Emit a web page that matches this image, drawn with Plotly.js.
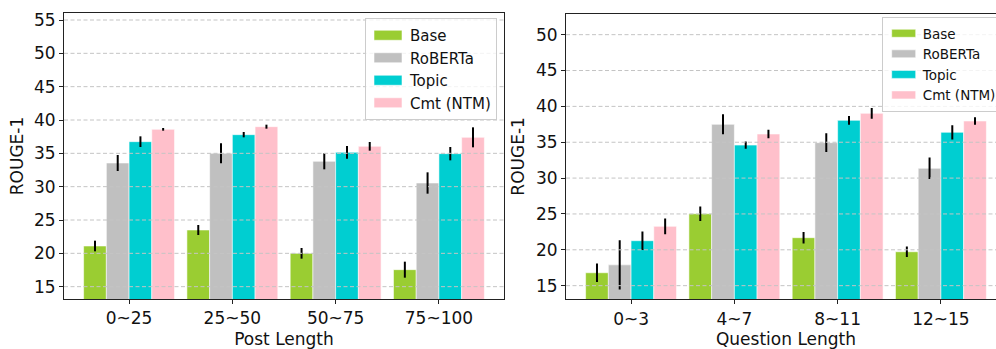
<!DOCTYPE html>
<html>
<head>
<meta charset="utf-8">
<script src="https://cdn.plot.ly/plotly-3.0.1.min.js"></script>
<style>
html, body { margin: 0; padding: 0; overflow: hidden; background: #fff; width: 996px; height: 349px; }
#chart { width: 1006px; height: 349px; }
</style>
</head>
<body>
<div id="chart"></div>
<script>
// ---- data ----
const seriesNames = ['Base', 'RoBERTa', 'Topic', 'Cmt (NTM)'];
const postCategories = ['0~25', '25~50', '50~75', '75~100'];
const questionCategories = ['0~3', '4~7', '8~11', '12~15'];

const postBase = [21.1, 23.5, 20.0, 17.55];
const postBaseErr = [0.8, 0.75, 0.8, 1.2];
const postRoberta = [33.55, 35.0, 33.8, 30.55];
const postRobertaErr = [1.2, 1.5, 1.2, 1.6];
const postTopic = [36.75, 37.8, 35.15, 34.95];
const postTopicErr = [0.8, 0.4, 0.95, 1.0];
const postCmt = [38.6, 39.0, 36.05, 37.4];
const postCmtErr = [0.2, 0.3, 0.65, 1.5];

const questionBase = [16.8, 25.03, 21.69, 19.73];
const questionBaseErr = [1.3, 1.0, 0.8, 0.72];
const questionRoberta = [17.9, 37.5, 34.94, 31.36];
const questionRobertaErr = [3.45, 1.4, 1.3, 1.5];
const questionTopic = [21.27, 34.6, 38.05, 36.38];
const questionTopicErr = [1.28, 0.5, 0.6, 1.0];
const questionCmt = [23.27, 36.15, 39.03, 37.96];
const questionCmtErr = [1.1, 0.6, 0.75, 0.53];

const leftYTicks = [15, 20, 25, 30, 35, 40, 45, 50, 55];
const rightYTicks = [15, 20, 25, 30, 35, 40, 45, 50];

// ---- styles ----
const colors = ['#9acd32', '#c0c0c0', '#00ced1', '#ffc0cb'];
const FONT = 'DejaVu Sans';
const W = 1006;

const postValues = [postBase, postRoberta, postTopic, postCmt];
const postErrs = [postBaseErr, postRobertaErr, postTopicErr, postCmtErr];
const questionValues = [questionBase, questionRoberta, questionTopic, questionCmt];
const questionErrs = [questionBaseErr, questionRobertaErr, questionTopicErr, questionCmtErr];

function makeTrace(name, cats, vals, errs, i, xa, ya, legendId) {
  return {
    type: 'bar', name: name, x: cats, y: vals,
    xaxis: xa, yaxis: ya, legend: legendId,
    legendgroup: legendId + name,
    marker: { color: colors[i], line: { color: 'rgba(255,255,255,0.55)', width: 1 } },
    error_y: { type: 'data', array: errs, visible: true, color: '#000', thickness: 2, width: 0 },
    hoverinfo: 'skip'
  };
}

const traces = [];
seriesNames.forEach((n, i) => traces.push(makeTrace(n, postCategories, postValues[i], postErrs[i], i, 'x', 'y', 'legend')));
seriesNames.forEach((n, i) => traces.push(makeTrace(n, questionCategories, questionValues[i], questionErrs[i], i, 'x2', 'y2', 'legend2')));

const gridShapes = [];
leftYTicks.forEach(t => gridShapes.push({ type: 'line', xref: 'x domain', yref: 'y', x0: 0, x1: 1, y0: t, y1: t, layer: 'above', line: { color: '#c4c4c4', width: 1, dash: '4px,2.5px' } }));
rightYTicks.forEach(t => gridShapes.push({ type: 'line', xref: 'x2 domain', yref: 'y2', x0: 0, x1: 1, y0: t, y1: t, layer: 'above', line: { color: '#c4c4c4', width: 1, dash: '4px,2.5px' } }));

const axisCommon = {
  showline: true, mirror: true, linecolor: '#222', linewidth: 1,
  ticks: 'outside', ticklen: 4, tickwidth: 1, tickcolor: '#222',
  showgrid: false, zeroline: false,
  tickfont: { family: FONT, size: 17, color: '#111' }
};

const layout = {
  width: W, height: 349,
  margin: { l: 0, r: 0, t: 0, b: 0, autoexpand: false },
  paper_bgcolor: '#fff', plot_bgcolor: '#fff',
  barmode: 'group', bargap: 0.12, bargroupgap: 0,
  font: { family: FONT, color: '#111' },
  showlegend: true,
  xaxis: Object.assign({}, axisCommon, {
    domain: [64 / W, 504 / W], anchor: 'y', type: 'category', range: [-0.63, 3.63],
    title: { text: 'Post Length', font: { family: FONT, size: 17, color: '#111' }, standoff: 7 }
  }),
  yaxis: Object.assign({}, axisCommon, {
    domain: [50 / 349, 336 / 349], anchor: 'x', range: [13.15, 56.05],
    tickvals: leftYTicks, ticktext: leftYTicks.map(String),
    title: { text: 'ROUGE-1', font: { family: FONT, size: 17, color: '#111' }, standoff: 6 }
  }),
  xaxis2: Object.assign({}, axisCommon, {
    domain: [566 / W, 1], anchor: 'y2', type: 'category', range: [-0.63, 3.63],
    title: { text: 'Question Length', font: { family: FONT, size: 17, color: '#111' }, standoff: 7 }
  }),
  yaxis2: Object.assign({}, axisCommon, {
    domain: [49.7 / 349, 335.5 / 349], anchor: 'x2', range: [13.1, 52.95],
    tickvals: rightYTicks, ticktext: rightYTicks.map(String),
    title: { text: 'ROUGE-1', font: { family: FONT, size: 17, color: '#111' }, standoff: 6 }
  }),
  legend: {
    x: 497 / W, xanchor: 'right', y: 1 - 18 / 349, yanchor: 'top',
    bgcolor: 'rgba(255,255,255,0.8)', bordercolor: '#cccccc', borderwidth: 1,
    font: { family: FONT, size: 15, color: '#111' }, tracegroupgap: 0.8, itemwidth: 34,
    traceorder: 'normal'
  },
  legend2: {
    x: 881.7 / W, xanchor: 'left', y: 1 - 17 / 349, yanchor: 'top',
    bgcolor: 'rgba(255,255,255,0.8)', bordercolor: '#cccccc', borderwidth: 1,
    font: { family: FONT, size: 13.5, color: '#111' }, tracegroupgap: 0, itemwidth: 30,
    traceorder: 'normal'
  },
  shapes: gridShapes
};

Plotly.newPlot('chart', traces, layout, { staticPlot: true, displayModeBar: false }).then(() => {
  document.querySelectorAll('g.legend .legendpoints path').forEach(p => {
    p.setAttribute('d', 'M-14,-5H14V5H-14Z');
  });
  document.querySelectorAll('g.legend2 .legendpoints path').forEach(p => {
    p.setAttribute('d', 'M-11,-4H13V4H-11Z');
  });
});
</script>
</body>
</html>
